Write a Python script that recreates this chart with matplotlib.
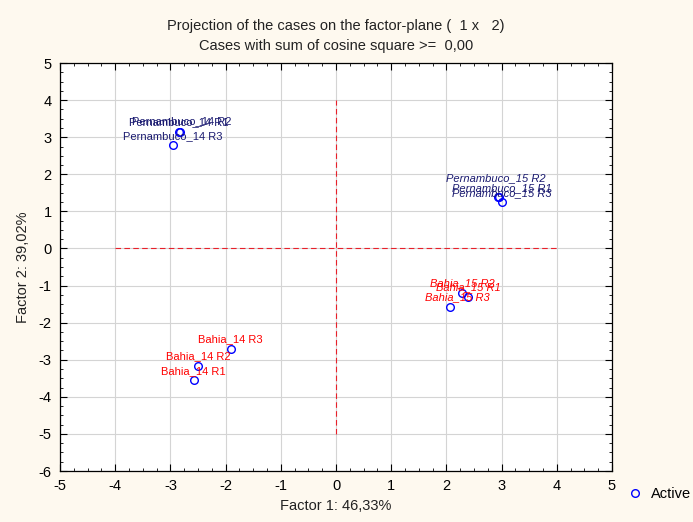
import matplotlib
matplotlib.use('Agg')
import matplotlib.pyplot as plt
from matplotlib.ticker import MultipleLocator

plt.rcParams['font.family'] = ['Liberation Sans', 'DejaVu Sans']
plt.rcParams['axes.unicode_minus'] = False

# case coordinates on factor 1 x factor 2
names = ['Pernambuco_14 R1', 'Pernambuco_14 R2', 'Pernambuco_14 R3',
         'Pernambuco_15 R1', 'Pernambuco_15 R2', 'Pernambuco_15 R3',
         'Bahia_14 R1', 'Bahia_14 R2', 'Bahia_14 R3',
         'Bahia_15 R1', 'Bahia_15 R2', 'Bahia_15 R3']
f1 = [-2.84, -2.82, -2.95,
      2.95, 2.94, 3.01,
      -2.58, -2.50, -1.91,
      2.40, 2.29, 2.07]
f2 = [3.13, 3.15, 2.78,
      1.39, 1.40, 1.24,
      -3.55, -3.16, -2.70,
      -1.30, -1.19, -1.57]

NAVY = '#1a1a70'
RED = '#ff0000'

# little nudges (points) so stacked labels look like the original
nudge = {'Pernambuco_15 R2': (-2, 7), 'Pernambuco_15 R1': (2, 0),
         'Pernambuco_14 R2': (1, 1), 'Pernambuco_14 R1': (0, 1),
         'Bahia_15 R3': (5, 0)}

fig = plt.figure(figsize=(6.93, 5.22), dpi=100)
fig.patch.set_facecolor('#fef9ef')
ax = fig.add_axes([0.0866, 0.0977, 0.7965, 0.7815])
ax.set_facecolor('white')

ax.plot(f1, f2, 'o', ls='none', ms=5.5, mfc='none', mec='#0000ff',
        mew=1.0, zorder=3, label='Active')

for n, x, y in zip(names, f1, f2):
    col = NAVY if n.startswith('Pern') else RED
    style = 'italic' if '_15' in n else 'normal'
    dx, dy = nudge.get(n, (0, 0))
    ax.annotate(n, (x, y), xytext=(dx, 3 + dy), textcoords='offset points',
                ha='center', va='bottom', fontsize=8, color=col,
                fontstyle=style, zorder=4)

# axes crosshair
ax.plot([-4, 4], [0, 0], ls=(0, (5, 3)), color='#e8202a', lw=0.8, zorder=2)
ax.plot([0, 0], [-5, 4], ls=(0, (5, 3)), color='#e8202a', lw=0.8, zorder=2)

ax.set_xlim(-5, 5)
ax.set_ylim(-6, 5)
ax.xaxis.set_major_locator(MultipleLocator(1))
ax.yaxis.set_major_locator(MultipleLocator(1))
ax.xaxis.set_minor_locator(MultipleLocator(0.25))
ax.yaxis.set_minor_locator(MultipleLocator(0.25))
ax.tick_params(which='both', direction='in', top=True, right=True,
               labelsize=10.5, colors='black')
ax.tick_params(which='major', length=5, width=0.8, pad=6)
ax.tick_params(which='minor', length=2.5, width=0.6)
ax.grid(True, which='major', color='#d4d4d4', lw=0.8, zorder=0)
ax.set_axisbelow(True)
for s in ax.spines.values():
    s.set_color('black')
    s.set_linewidth(0.9)

ax.set_xlabel('Factor 1: 46,33%', fontsize=10.5, color='#222222', labelpad=4)
ax.set_ylabel('Factor 2: 39,02%', fontsize=10.5, color='#222222', labelpad=6)

fig.text(336 / 693, 1 - 26 / 522,
         'Projection of the cases on the factor-plane (  1 x   2)',
         ha='center', va='center', fontsize=10.5, color='#222222')
fig.text(336 / 693, 1 - 46 / 522,
         'Cases with sum of cosine square >=  0,00',
         ha='center', va='center', fontsize=10.5, color='#222222')

fig.legend(loc='center left', bbox_to_anchor=(622 / 693, 1 - 494 / 522),
           frameon=False, handlelength=1.0, handletextpad=0.6,
           fontsize=10.5, borderaxespad=0)

fig.savefig('out.png', dpi=100, facecolor=fig.get_facecolor())
